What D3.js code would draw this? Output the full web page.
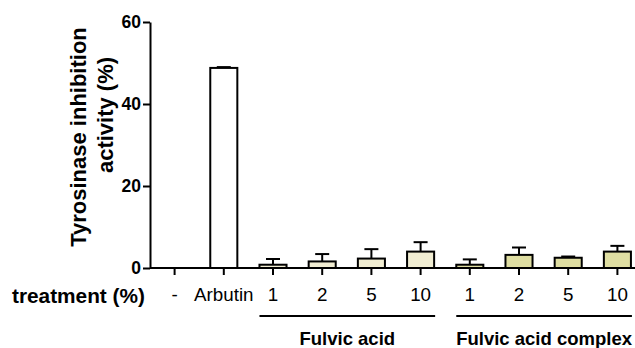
<!DOCTYPE html>
<meta charset="utf-8">
<script src="https://d3js.org/d3.v7.min.js"></script>
<style>
  body { margin: 0; background: #fff; }
  text { font-family: "Liberation Sans", Arial, sans-serif; }
</style>
<div id="chart"></div>
<script>
  // data
  const labels = ["-", "Arbutin", "1", "2", "5", "10", "1", "2", "5", "10"];
  const values = [0, 48.8, 0.8, 1.6, 2.3, 4.0, 0.8, 3.2, 2.5, 4.0];
  const errors = [0, 0.2, 1.4, 1.8, 2.3, 2.3, 1.3, 1.8, 0.3, 1.4];
  const fills = ["#ffffff", "#ffffff", "#f1edd2", "#f1edd2", "#f1edd2", "#f1edd2", "#dfdea2", "#dfdea2", "#dfdea2", "#dfdea2"];
  const groups = [{ name: "Fulvic acid", from: 2, to: 5 }, { name: "Fulvic acid complex", from: 6, to: 9 }];
  const yTicks = [0, 20, 40, 60];

  const width = 635, height = 348;
  const svg = d3.select("#chart").append("svg")
    .attr("width", width).attr("height", height);

  const x = d3.scaleBand()
    .domain(d3.range(labels.length))
    .range([150, 642])
    .paddingInner(0.45)
    .paddingOuter(0.225);

  const y = d3.scaleLinear().domain([0, 60]).range([268, 22]);

  // bars
  svg.selectAll("rect.bar")
    .data(values)
    .join("rect")
    .attr("class", "bar")
    .attr("x", (d, i) => x(i))
    .attr("y", d => y(d))
    .attr("width", x.bandwidth())
    .attr("height", d => y(0) - y(d))
    .attr("fill", (d, i) => fills[i])
    .attr("stroke", (d) => d > 0 ? "#000" : "none")
    .attr("stroke-width", 2);

  // error bars (upper only)
  const eb = svg.append("g").attr("stroke", "#000").attr("stroke-width", 2);
  values.forEach((v, i) => {
    if (v <= 0) return;
    const cx = x(i) + x.bandwidth() / 2;
    eb.append("line").attr("x1", cx).attr("x2", cx).attr("y1", y(v)).attr("y2", y(v + errors[i]));
    eb.append("line").attr("x1", cx - 7).attr("x2", cx + 7).attr("y1", y(v + errors[i])).attr("y2", y(v + errors[i]));
  });

  // x axis
  const xAxis = svg.append("g")
    .attr("transform", `translate(0,${y(0)})`)
    .call(d3.axisBottom(x).tickSize(7).tickPadding(13).tickFormat(i => labels[i]));
  xAxis.select(".domain").attr("stroke-width", 2).attr("d", "M150,0H642");
  xAxis.selectAll(".tick line").attr("stroke-width", 2);
  xAxis.selectAll(".tick text").attr("font-size", 18.8).attr("fill", "#000");

  // y axis
  const yAxis = svg.append("g")
    .attr("transform", "translate(150,0)")
    .call(d3.axisLeft(y).tickValues(yTicks).tickSize(7).tickPadding(2).tickSizeOuter(0));
  yAxis.select(".domain").attr("stroke-width", 2);
  yAxis.selectAll(".tick line").attr("stroke-width", 2);
  yAxis.selectAll(".tick text").attr("font-size", 17.5).attr("font-weight", "bold").attr("fill", "#000");

  // y title
  svg.append("text")
    .attr("transform", "translate(86,137) rotate(-90)")
    .attr("text-anchor", "middle")
    .attr("font-size", 22).attr("font-weight", "bold")
    .text("Tyrosinase inhibition");
  svg.append("text")
    .attr("transform", "translate(113,115) rotate(-90)")
    .attr("text-anchor", "middle")
    .attr("font-size", 22).attr("font-weight", "bold")
    .text("activity (%)");

  svg.append("text")
    .attr("x", 12).attr("y", 303)
    .attr("font-size", 20.8).attr("font-weight", "bold")
    .text("treatment (%)");

  // group brackets: span from the first to the last bar of the group
  groups.forEach(g => {
    const x1 = x(g.from), x2 = Math.min(x(g.to) + x.bandwidth() + 1, 633);
    svg.append("line")
      .attr("x1", x1).attr("x2", x2)
      .attr("y1", 316).attr("y2", 316)
      .attr("stroke", "#000").attr("stroke-width", 2);
    svg.append("text")
      .attr("x", (x1 + x2) / 2).attr("y", 345)
      .attr("text-anchor", "middle")
      .attr("font-size", 18.5).attr("font-weight", "bold")
      .text(g.name);
  });
</script>
